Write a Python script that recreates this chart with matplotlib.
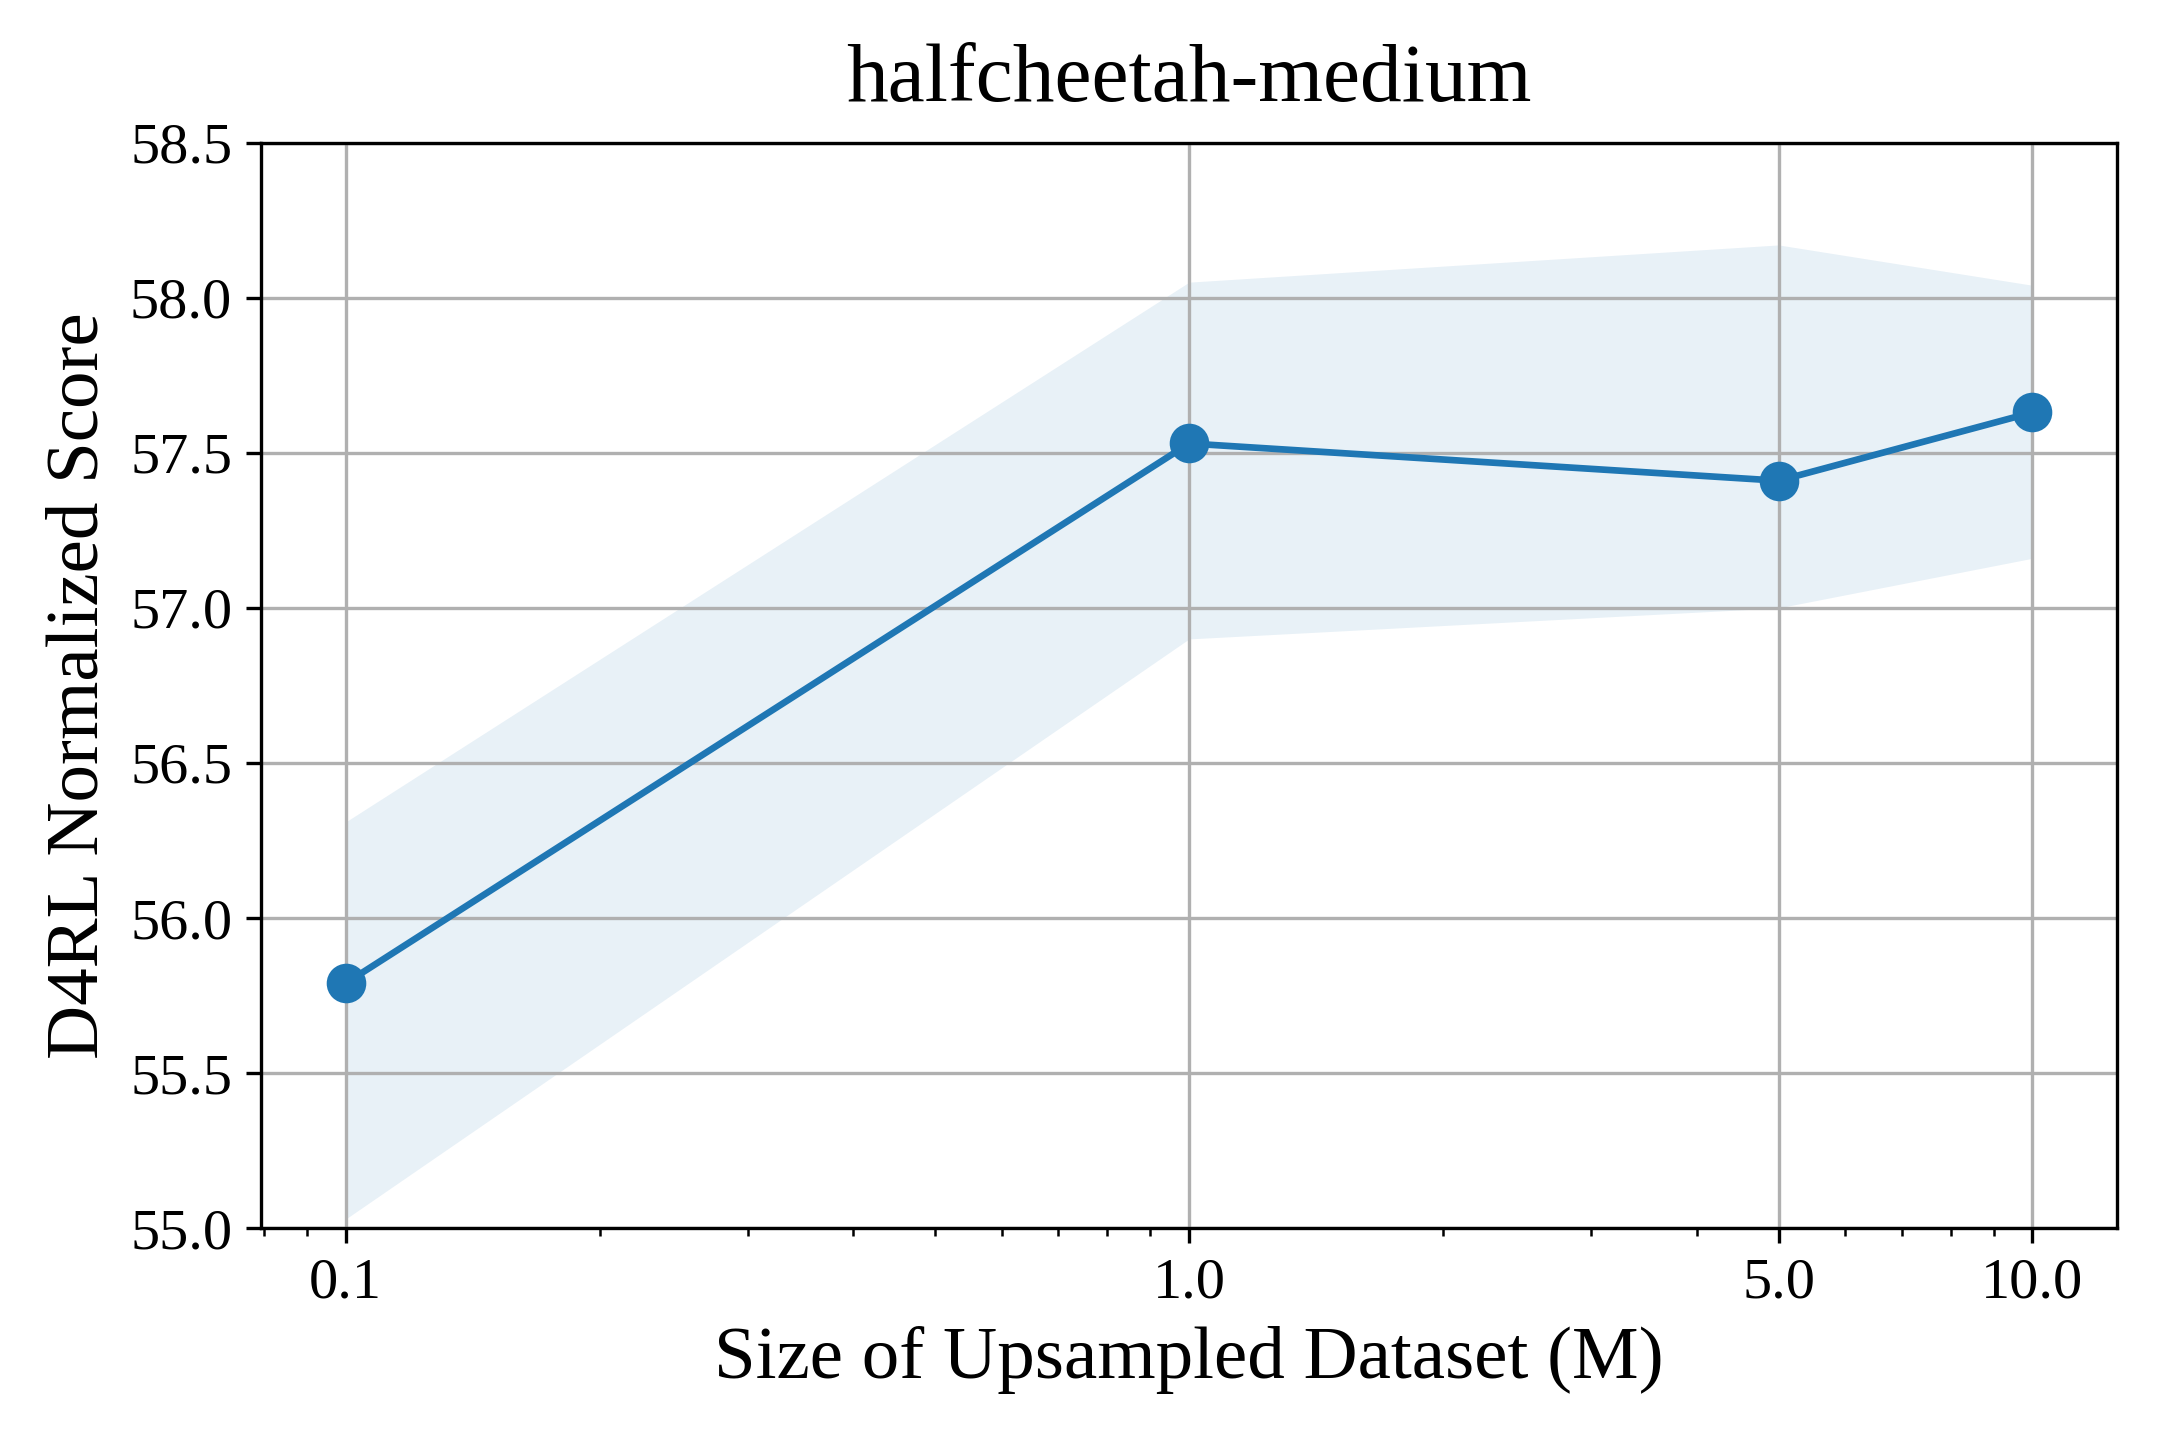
import matplotlib
matplotlib.use("Agg")
import matplotlib.pyplot as plt
import numpy as np

plt.rcParams['font.family'] = ['Liberation Serif', 'DejaVu Serif']
plt.rcParams['mathtext.fontset'] = 'stix'

sizes = [0.1, 1.0, 5.0, 10.0]
tick_labels = ["0.1", "1.0", "5.0", "10.0"]
mean_score = [55.79, 57.53, 57.41, 57.63]
upper = [56.31, 58.05, 58.17, 58.04]
lower = [55.03, 56.90, 57.00, 57.16]

fig, ax = plt.subplots(figsize=(7.2, 4.8), dpi=300)
fig.subplots_adjust(left=0.121, right=0.980, top=0.901, bottom=0.147)

ax.fill_between(sizes, lower, upper, color='C0', alpha=0.1, linewidth=0)
ax.plot(sizes, mean_score, marker='o', color='C0', linewidth=1.6, markersize=8.5)

ax.set_xscale('log')
ax.set_xticks(sizes)
ax.set_xticklabels(tick_labels)
ax.set_ylim(55.0, 58.5)
ax.set_yticks(np.arange(55.0, 58.51, 0.5))
ax.set_yticklabels([f"{v:.1f}" for v in np.arange(55.0, 58.51, 0.5)])
ax.grid(True, which='major', color='#b0b0b0', linewidth=0.8)
ax.tick_params(axis='both', which='major', labelsize=14)

ax.set_title("halfcheetah-medium", fontsize=20, pad=10)
ax.set_xlabel("Size of Upsampled Dataset (M)", fontsize=18)
ax.set_ylabel("D4RL Normalized Score", fontsize=18)

fig.savefig("out.png", dpi=300)
